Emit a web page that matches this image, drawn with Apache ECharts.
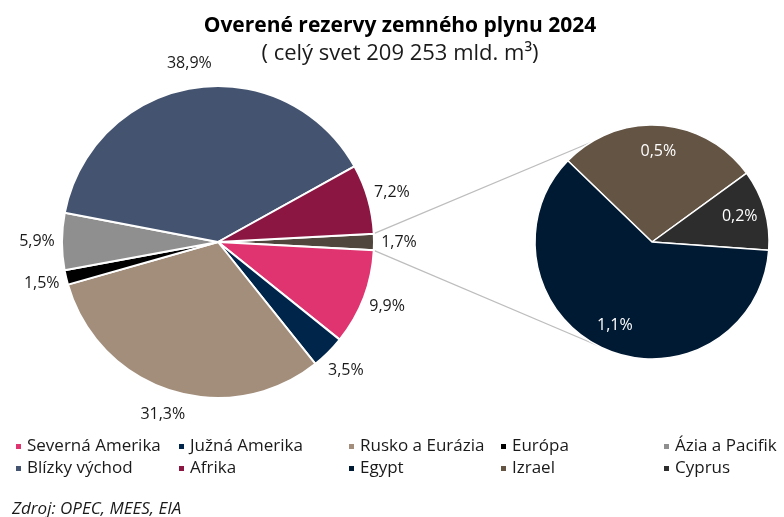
<!DOCTYPE html>
<html>
<head>
<meta charset="utf-8">
<script src="https://cdn.jsdelivr.net/npm/echarts@6/dist/echarts.min.js"></script>
<style>
  html, body { margin: 0; padding: 0; background: #fff; }
  #chart { width: 784px; height: 517px; }
</style>
</head>
<body>
<div id="chart"></div>
<script>
// hlavny kolac (v smere hodinovych ruciciek od 3. hodiny)
const mainNames = ['Ostatné', 'Severná Amerika', 'Južná Amerika', 'Rusko a Eurázia', 'Európa', 'Ázia a Pacifik', 'Blízky východ', 'Afrika'];
const mainValues = [1.7, 9.9, 3.5, 31.3, 1.5, 5.9, 38.9, 7.2];
const mainColors = ['#51463e', '#df3470', '#00254a', '#a28e7b', '#000000', '#8f8f8f', '#44536f', '#8b1642'];

// rozpad "ostatne"
const subNames = ['Izrael', 'Cyprus', 'Egypt'];
const subValues = [0.5, 0.2, 1.1];
const subColors = ['#645444', '#2d2d2d', '#001a33'];

// legenda po stlpcoch
const legendCols = [
    ['Severná Amerika', 'Blízky východ'],
    ['Južná Amerika', 'Afrika'],
    ['Rusko a Eurázia', 'Egypt'],
    ['Európa', 'Izrael'],
    ['Ázia a Pacifik', 'Cyprus']
];
const legendLeft = [14, 177, 347, 499, 662];

const FONT = '"Open Sans", sans-serif';
const mainC = [218, 242], mainR = 156;
const subC = [652, 242], subR = 117;
const mainStart = mainValues[0] / mainValues.reduce((a, b) => a + b, 0) * 180;
const subStart = 136;

function fmt(v) {
    return v.toFixed(1).replace('.', ',') + '%';
}

// stred uhla vysece v stupnoch
function midAngle(values, start, i) {
    const total = values.reduce((a, b) => a + b, 0);
    let before = 0;
    for (let k = 0; k < i; k++) before += values[k];
    return start - (before + values[i] / 2) / total * 360;
}

const chart = echarts.init(document.getElementById('chart'));

const legends = legendCols.map(function (col, i) {
    return {
        data: col,
        orient: 'vertical',
        left: legendLeft[i],
        top: 438,
        padding: 0,
        itemGap: 5,
        itemWidth: 7,
        itemHeight: 7,
        icon: 'rect',
        selectedMode: false,
        textStyle: { fontFamily: FONT, fontSize: 17, color: '#1a1a1a' }
    };
});

// spojovacie ciary medzi kolacmi
const a0 = mainStart * Math.PI / 180;
const upA = 122 * Math.PI / 180, dnA = -118 * Math.PI / 180;
const lines = [
    [[mainC[0] + mainR * Math.cos(a0), mainC[1] - mainR * Math.sin(a0)],
     [subC[0] + subR * Math.cos(upA), subC[1] - subR * Math.sin(upA)]],
    [[mainC[0] + mainR * Math.cos(a0), mainC[1] + mainR * Math.sin(a0)],
     [subC[0] + subR * Math.cos(dnA), subC[1] - subR * Math.sin(dnA)]]
];

chart.setOption({
    backgroundColor: '#fff',
    animation: false,
    title: [{
        text: 'Overené rezervy zemného plynu 2024',
        subtext: '( celý svet 209 253 mld. m³)',
        left: 400,
        textAlign: 'center',
        top: 16,
        itemGap: 6,
        padding: 0,
        textStyle: { fontFamily: FONT, fontSize: 21, fontWeight: 'bold', color: '#000' },
        subtextStyle: { fontFamily: FONT, fontSize: 22, color: '#1a1a1a' }
    }, {
        text: 'Zdroj: OPEC, MEES, EIA',
        left: 12,
        top: 501,
        padding: 0,
        textStyle: { fontFamily: FONT, fontSize: 17, fontStyle: 'italic', fontWeight: 'normal', color: '#1a1a1a' }
    }],
    legend: legends,
    graphic: lines.map(function (l) {
        return {
            type: 'line',
            silent: true,
            shape: { x1: l[0][0], y1: l[0][1], x2: l[1][0], y2: l[1][1] },
            style: { stroke: '#bdbdbd', lineWidth: 1.2 }
        };
    }),
    series: [{
        type: 'pie',
        center: mainC,
        radius: [0, mainR],
        startAngle: mainStart,
        clockwise: true,
        avoidLabelOverlap: false,
        itemStyle: { borderColor: '#fff', borderWidth: 2 },
        label: {
            show: true,
            position: 'outside',
            fontFamily: FONT,
            fontSize: 16,
            color: '#1a1a1a',
            formatter: function (p) { return fmt(p.value); }
        },
        labelLine: { show: false },
        labelLayout: function (p) {
            const a = midAngle(mainValues, mainStart, p.dataIndex) * Math.PI / 180;
            return {
                x: mainC[0] + 181 * Math.cos(a),
                y: mainC[1] - 181 * Math.sin(a),
                align: 'center',
                verticalAlign: 'middle'
            };
        },
        emphasis: { disabled: true },
        data: mainNames.map(function (n, i) {
            return { name: n, value: mainValues[i], itemStyle: { color: mainColors[i] } };
        })
    }, {
        type: 'pie',
        center: subC,
        radius: [0, subR],
        startAngle: subStart,
        clockwise: true,
        avoidLabelOverlap: false,
        itemStyle: { borderColor: '#fff', borderWidth: 1.5 },
        label: {
            show: true,
            position: 'inside',
            fontFamily: FONT,
            fontSize: 16,
            color: '#fff',
            formatter: function (p) { return fmt(p.value); }
        },
        labelLine: { show: false },
        labelLayout: function (p) {
            const a = midAngle(subValues, subStart, p.dataIndex) * Math.PI / 180;
            return {
                x: subC[0] + 0.78 * subR * Math.cos(a),
                y: subC[1] - 0.78 * subR * Math.sin(a),
                align: 'center',
                verticalAlign: 'middle'
            };
        },
        emphasis: { disabled: true },
        data: subNames.map(function (n, i) {
            return { name: n, value: subValues[i], itemStyle: { color: subColors[i] } };
        })
    }]
});
</script>
</body>
</html>
